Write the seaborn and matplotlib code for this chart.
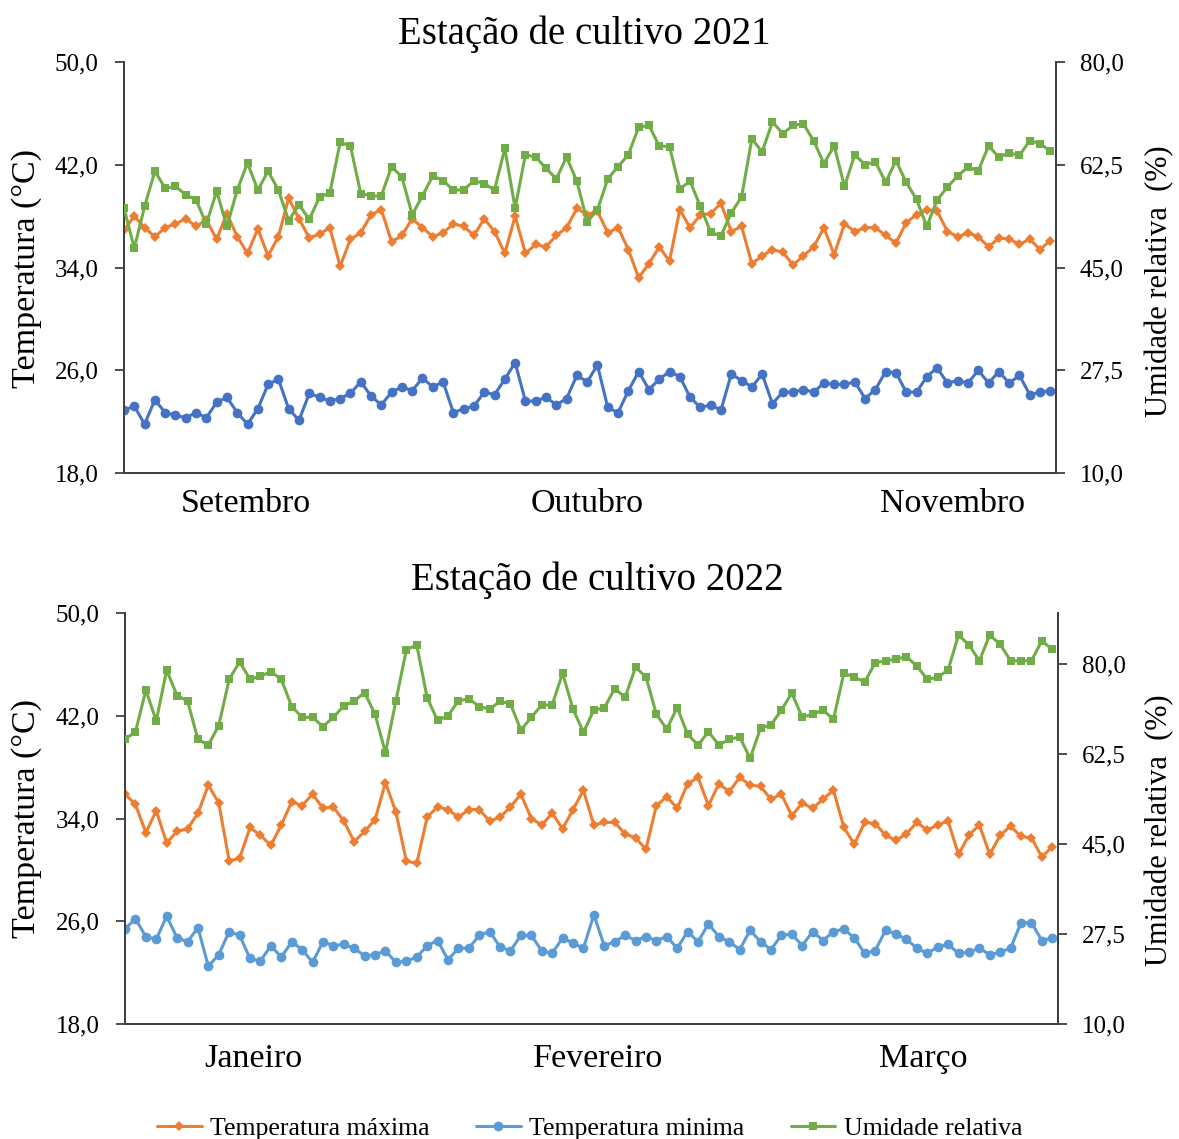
import numpy as np
import pandas as pd
import matplotlib
matplotlib.use("Agg")
import matplotlib.pyplot as plt
from matplotlib.ticker import FuncFormatter
from matplotlib.lines import Line2D
import seaborn as sns

# ---------------- data ----------------
tmax_2021 = [36.9, 38.0, 37.1, 36.4, 37.1, 37.4, 37.8, 37.2, 37.7, 36.2, 38.2, 36.4, 35.1, 37.0, 34.9, 36.4,
             39.4, 37.8, 36.3, 36.6, 37.1, 34.1, 36.2, 36.7, 38.1, 38.5, 36.0, 36.5, 37.8, 37.1, 36.4, 36.7,
             37.4, 37.2, 36.5, 37.8, 36.8, 35.1, 38.0, 35.1, 35.8, 35.6, 36.5, 37.1, 38.6, 38.1, 38.4, 36.7,
             37.1, 35.4, 33.2, 34.3, 35.6, 34.5, 38.5, 37.1, 38.1, 38.2, 39.0, 36.8, 37.2, 34.3, 34.9, 35.4,
             35.2, 34.2, 34.9, 35.6, 37.1, 35.0, 37.4, 36.8, 37.1, 37.1, 36.5, 35.9, 37.5, 38.1, 38.5, 38.4,
             36.8, 36.4, 36.7, 36.4, 35.6, 36.3, 36.2, 35.8, 36.2, 35.4, 36.1]
tmin_2021 = [22.9, 23.2, 21.8, 23.7, 22.7, 22.5, 22.3, 22.7, 22.3, 23.5, 23.9, 22.7, 21.8, 23.0, 24.9, 25.3,
             23.0, 22.1, 24.2, 23.9, 23.6, 23.8, 24.2, 25.1, 24.0, 23.3, 24.3, 24.7, 24.4, 25.4, 24.7, 25.1,
             22.7, 23.0, 23.2, 24.3, 24.1, 25.3, 26.6, 23.6, 23.6, 23.9, 23.3, 23.8, 25.6, 25.1, 26.4, 23.1,
             22.7, 24.4, 25.9, 24.5, 25.3, 25.9, 25.5, 23.9, 23.1, 23.3, 22.9, 25.7, 25.2, 24.7, 25.7, 23.4,
             24.3, 24.3, 24.5, 24.3, 25.0, 24.9, 24.9, 25.1, 23.8, 24.5, 25.9, 25.8, 24.3, 24.3, 25.5, 26.2,
             25.0, 25.2, 25.0, 26.0, 25.0, 25.9, 25.0, 25.6, 24.1, 24.3, 24.4]
ur_2021 = [55.1, 48.3, 55.4, 61.4, 58.5, 58.8, 57.4, 56.5, 52.4, 58.0, 52.0, 58.2, 62.8, 58.2, 61.4, 58.2,
           53.0, 55.7, 53.2, 57.0, 57.7, 66.3, 65.7, 57.6, 57.2, 57.2, 62.2, 60.4, 54.0, 57.2, 60.6, 59.8,
           58.2, 58.2, 59.8, 59.3, 58.2, 65.3, 55.1, 64.2, 63.8, 61.9, 60.1, 63.8, 59.7, 52.8, 54.8, 60.1,
           62.2, 64.2, 68.9, 69.2, 65.7, 65.6, 58.4, 59.7, 55.4, 51.0, 50.4, 54.3, 57.0, 66.9, 64.7, 69.8,
           67.8, 69.2, 69.5, 66.6, 62.7, 65.7, 58.8, 64.2, 62.5, 63.0, 59.5, 63.2, 59.5, 56.6, 52.0, 56.5,
           58.7, 60.6, 62.1, 61.5, 65.7, 63.8, 64.5, 64.1, 66.6, 66.1, 64.8]

tmax_2022 = [35.9, 35.1, 32.9, 34.6, 32.1, 33.0, 33.2, 34.4, 36.6, 35.2, 30.7, 30.9, 33.3, 32.7, 31.9, 33.5,
             35.3, 35.0, 35.9, 34.8, 34.9, 33.8, 32.2, 33.0, 33.9, 36.8, 34.5, 30.7, 30.5, 34.1, 34.9, 34.7,
             34.1, 34.7, 34.7, 33.8, 34.1, 34.9, 35.9, 34.0, 33.5, 34.4, 33.2, 34.7, 36.2, 33.5, 33.7, 33.7,
             32.8, 32.5, 31.6, 35.0, 35.7, 34.8, 36.7, 37.2, 35.0, 36.7, 36.1, 37.2, 36.6, 36.5, 35.5, 35.9,
             34.2, 35.2, 34.8, 35.5, 36.2, 33.3, 32.0, 33.7, 33.6, 32.7, 32.3, 32.8, 33.7, 33.1, 33.5, 33.8,
             31.2, 32.7, 33.5, 31.2, 32.7, 33.4, 32.6, 32.5, 31.0, 31.8]
tmin_2022 = [25.4, 26.2, 24.8, 24.6, 26.4, 24.7, 24.4, 25.5, 22.5, 23.4, 25.2, 24.9, 23.1, 22.9, 24.1, 23.2,
             24.4, 23.8, 22.8, 24.4, 24.1, 24.2, 23.9, 23.3, 23.4, 23.7, 22.8, 22.9, 23.2, 24.1, 24.5, 23.0,
             23.9, 23.9, 24.9, 25.2, 24.0, 23.7, 24.9, 24.9, 23.7, 23.5, 24.7, 24.3, 23.9, 26.5, 24.1, 24.4,
             24.9, 24.5, 24.8, 24.5, 24.8, 23.9, 25.2, 24.4, 25.8, 24.8, 24.4, 23.8, 25.3, 24.4, 23.8, 24.9,
             25.0, 24.1, 25.2, 24.5, 25.2, 25.4, 24.7, 23.5, 23.7, 25.3, 25.0, 24.6, 23.9, 23.5, 24.0, 24.2,
             23.5, 23.6, 23.9, 23.4, 23.6, 23.9, 25.9, 25.9, 24.5, 24.7]
ur_2022 = [65.5, 66.8, 75.0, 69.0, 78.9, 73.9, 72.9, 65.4, 64.3, 68.1, 77.1, 80.5, 77.1, 77.7, 78.6, 77.1,
           71.8, 69.7, 69.7, 67.9, 69.7, 71.9, 72.9, 74.5, 70.3, 62.8, 72.9, 82.8, 83.8, 73.5, 69.1, 70.0,
           72.9, 73.3, 71.8, 71.3, 72.8, 72.3, 67.2, 69.7, 72.1, 72.1, 78.3, 71.3, 66.8, 71.1, 71.5, 75.3,
           73.6, 79.4, 77.6, 70.3, 67.4, 71.6, 66.4, 64.3, 66.9, 64.3, 65.4, 65.9, 61.7, 67.6, 68.2, 71.1,
           74.4, 69.7, 70.3, 71.1, 69.3, 78.3, 77.5, 76.6, 80.3, 80.7, 81.0, 81.5, 79.7, 77.1, 77.5, 78.9,
           85.7, 83.8, 80.7, 85.7, 83.9, 80.7, 80.7, 80.7, 84.6, 82.9]

titles = ["Estação de cultivo 2021", "Estação de cultivo 2022"]
months_2021 = ["Setembro", "Outubro", "Novembro"]
months_2022 = ["Janeiro", "Fevereiro", "Março"]
month_label_pos_2021 = [11.8, 45.0, 80.5]
month_label_pos_2022 = [12.3, 45.4, 76.6]
month_ticks = [31, 62]
temp_ticks = [18, 26, 34, 42, 50]
ur_ticks_2021 = [10.0, 27.5, 45.0, 62.5, 80.0]
ur_ticks_2022 = [10.0, 27.5, 45.0, 62.5, 80.0]
series_names = ["Temperatura máxima", "Temperatura minima", "Umidade relativa"]

# ---------------- style ----------------
sns.set_style("white")
plt.rcParams["font.family"] = ["Liberation Serif", "DejaVu Serif"]
plt.rcParams["axes.unicode_minus"] = False
plt.rcParams["text.color"] = "black"
plt.rcParams["xtick.color"] = "black"
plt.rcParams["ytick.color"] = "black"
plt.rcParams["xtick.labelcolor"] = "black"
plt.rcParams["ytick.labelcolor"] = "black"

ORANGE = "#ED7D31"
BLUE_DARK = "#4472C4"
BLUE_LIGHT = "#5B9BD5"
GREEN = "#70AD47"
SPINE = "#404040"

W, H = 1179, 1139
fig = plt.figure(figsize=(W / 100, H / 100), dpi=100)

comma = FuncFormatter(lambda v, p: f"{v:.1f}".replace(".", ","))


def panel(rect, tmax, tmin, ur, blue, ur_max, ur_ticks, months, mpos, month_pad, title, title_xy,
          ylab_y, rlab_y):
    n = len(tmax)
    df = pd.DataFrame({"dia": np.arange(n), "tmax": tmax, "tmin": tmin, "ur": ur})
    ax = fig.add_axes(rect)
    ax2 = ax.twinx()
    lw = 2.2
    sns.lineplot(data=df, x="dia", y="tmax", ax=ax, color=ORANGE, lw=lw, marker="D",
                 markersize=5.2, markeredgewidth=0, zorder=3)
    sns.lineplot(data=df, x="dia", y="tmin", ax=ax, color=blue, lw=lw, marker="o",
                 markersize=7.0, markeredgewidth=0, zorder=3)
    sns.lineplot(data=df, x="dia", y="ur", ax=ax2, color=GREEN, lw=lw, marker="s",
                 markersize=6.4, markeredgewidth=0, zorder=3)
    ax.set_xlim(0, n - 1 + 0.55)
    ax.set_ylim(18, 50)
    ax2.set_ylim(10, ur_max)
    ax.set_yticks(temp_ticks)
    ax2.set_yticks(ur_ticks)
    ax.yaxis.set_major_formatter(comma)
    ax2.yaxis.set_major_formatter(comma)
    ax.set_xticks(month_ticks)
    ax.set_xticklabels([])
    ax.set_xticks(mpos, minor=True)
    ax.set_xticklabels(months, minor=True)
    ax.tick_params(axis="x", which="major", direction="in", length=8.5, width=1.3, color=SPINE)
    ax.tick_params(axis="x", which="minor", length=0, pad=month_pad, labelsize=24.5,
                   labelcolor="black")
    ax.tick_params(axis="y", direction="out", length=6.5, width=1.3, color=SPINE, labelsize=18,
                   pad=12, left=True, labelcolor="black")
    ax2.tick_params(axis="y", direction="out", length=6.5, width=1.3, color=SPINE, labelsize=18,
                    pad=10.5, right=True, labelcolor="black")
    ax.set_xlabel("")
    ax.set_ylabel("")
    ax2.set_ylabel("")
    for a in (ax, ax2):
        a.spines["top"].set_visible(False)
        for s in ("left", "right", "bottom"):
            a.spines[s].set_color(SPINE)
            a.spines[s].set_linewidth(1.4)
        a.grid(False)
    fig.text(title_xy[0] / W, 1 - title_xy[1] / H, title, ha="center", va="center", fontsize=28,
             color="black")
    fig.text(27 / W, 1 - ylab_y / H, "Temperatura (°C)", rotation=90, ha="center", va="center",
             fontsize=24.5, color="black")
    fig.text(1160 / W, 1 - rlab_y / H, "Umidade relativa  (%)", rotation=90, ha="center",
             va="center", fontsize=22, color="black")
    return ax


panel([124 / W, 1 - 473 / H, 932 / W, 411 / H], tmax_2021, tmin_2021, ur_2021, BLUE_DARK, 80,
      ur_ticks_2021, months_2021, month_label_pos_2021, 11, titles[0], (584, 34), 268, 281)
panel([125 / W, 1 - 1024 / H, 933 / W, 411 / H], tmax_2022, tmin_2022, ur_2022, BLUE_LIGHT, 90,
      ur_ticks_2022, months_2022, month_label_pos_2022, 14, titles[1], (597, 580), 818, 830)

handles = [
    Line2D([], [], color=ORANGE, lw=2.2, marker="D", markersize=5.2, markeredgewidth=0),
    Line2D([], [], color=BLUE_LIGHT, lw=2.2, marker="o", markersize=7.0, markeredgewidth=0),
    Line2D([], [], color=GREEN, lw=2.2, marker="s", markersize=6.4, markeredgewidth=0),
]
leg = fig.legend(handles, series_names, loc="center", bbox_to_anchor=(0.5, 1 - 1129 / H), ncol=3,
                 frameon=False, fontsize=18.5, handlelength=1.75, handletextpad=0.32,
                 columnspacing=1.8, borderaxespad=0, borderpad=0)
for t in leg.get_texts():
    t.set_color("black")

fig.savefig("out.png", dpi=100)
